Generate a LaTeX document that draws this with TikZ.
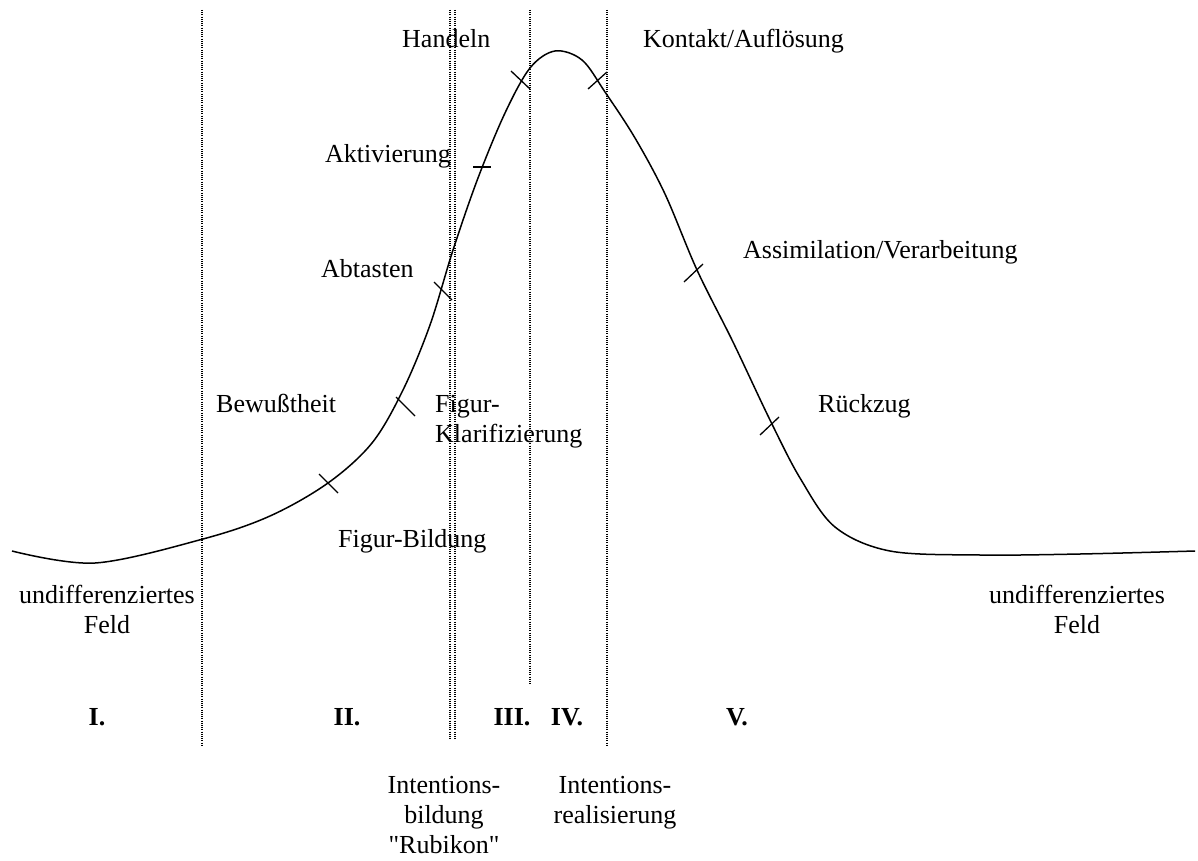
\documentclass[tikz,border=0pt]{standalone}
\usepackage{fontspec}
\setmainfont{Liberation Serif}[Ligatures=TeXOff]
\begin{document}
\begin{tikzpicture}[x=1pt,y=-1pt,
  lbl/.style={inner sep=0pt,font=\fontsize{26}{30}\selectfont},
  lw/.style={lbl,anchor=base west},
  lc/.style={lbl,anchor=base},
  num/.style={lbl,anchor=base,font=\fontsize{26}{30}\selectfont\bfseries},
  phase/.style={line width=1.2pt,dash pattern=on 1pt off 1.2pt},
  curve/.style={line width=1.5pt},
  tick/.style={line width=1.3pt}]
\useasboundingbox (0,0) rectangle (1198,861);
% phase boundaries
\draw[phase] (202,10) -- (202,745);
\draw[phase] (450,10) -- (450,740);
\draw[phase] (455,10) -- (455,740);
\draw[phase] (530,10) -- (530,684);
\draw[phase] (607,10) -- (607,745);
% curve
\draw[curve] plot[smooth,tension=0.55] coordinates {
 (12,551) (95,563) (203,539) (270,516) (328,483) (372,443) (403,390)
 (430,325) (453,250) (478,178) (505,113) (530,68) (555,51) (582,60)
 (605,92) (635,138) (665,194) (697,270) (733,342) (770,420) (800,478)
 (835,527) (890,551) (980,555) (1080,554) (1195,551)};
% ticks
\draw[tick] (319,474) -- (338,493);
\draw[tick] (396,397) -- (415,416);
\draw[tick] (434,282) -- (452,300);
\draw[tick] (473,167) -- (491,167);
\draw[tick] (511,71) -- (530,89);
\draw[tick] (588,89) -- (607,72);
\draw[tick] (684,282) -- (703,264);
\draw[tick] (760,435) -- (779,417);
% labels
\node[lw] (handeln) at (402,48) {Handeln};
\node[lw] (kontakt) at (643,48) {Kontakt/Auflösung};
\node[lw] (aktiv) at (325,163) {Aktivierung};
\node[lw] (abtast) at (321,277) {Abtasten};
\node[lw] (assim) at (743,258) {Assimilation/Verarbeitung};
\node[lw] (bewusst) at (216,412) {Bewußtheit};
\node[lw] (figur1) at (435,412) {Figur-};
\node[lw] (figur2) at (435,442) {Klarifizierung};
\node[lw] (rueck) at (818,412) {Rückzug};
\node[lw] (bildung) at (338,547) {Figur-Bildung};
\node[lc] (ufl1) at (107,603) {undifferenziertes};
\node[lc] (ufl2) at (107,633) {Feld};
\node[lc] (ufr1) at (1077,603) {undifferenziertes};
\node[lc] (ufr2) at (1077,633) {Feld};
\node[num] (p1) at (97,725) {I.};
\node[num] (p2) at (347,725) {II.};
\node[num] (p3) at (512,725) {III.};
\node[num] (p4) at (567,725) {IV.};
\node[num] (p5) at (737,725) {V.};
\node[lc] (ib1) at (444,793) {Intentions-};
\node[lc] (ib2) at (444,823) {bildung};
\node[lc] (ib3) at (444,853) {"Rubikon"};
\node[lc] (ir1) at (615,793) {Intentions-};
\node[lc] (ir2) at (615,823) {realisierung};
\end{tikzpicture}
\end{document}
